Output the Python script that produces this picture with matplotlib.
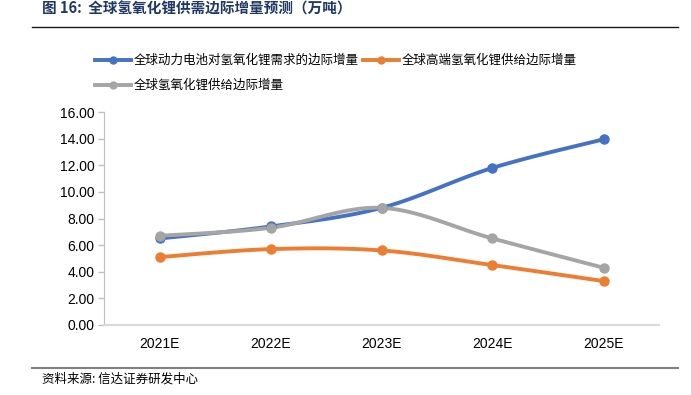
import numpy as np
import matplotlib.pyplot as plt
from matplotlib.lines import Line2D

plt.rcParams['font.family'] = ['Noto Sans CJK SC', 'DejaVu Sans']

# 数据（万吨）
years = ['2021E', '2022E', '2023E', '2024E', '2025E']
demand = [6.5, 7.4, 8.8, 11.8, 13.95]      # 全球动力电池对氢氧化锂需求的边际增量
high_end = [5.1, 5.7, 5.6, 4.5, 3.3]        # 全球高端氢氧化锂供给边际增量
supply = [6.7, 7.3, 8.8, 6.5, 4.3]          # 全球氢氧化锂供给边际增量

names = ['全球动力电池对氢氧化锂需求的边际增量', '全球高端氢氧化锂供给边际增量', '全球氢氧化锂供给边际增量']
colors = ['#4472C4', '#ED7D31', '#A5A5A5']


def smooth(y, n=30):
    # Catmull-Rom 平滑曲线（类似 Excel 平滑线）
    x = np.arange(len(y), dtype=float)
    pts = np.column_stack([x, np.asarray(y, dtype=float)])
    p = np.vstack([pts[0], pts, pts[-1]])
    out = []
    for i in range(1, len(p) - 2):
        p0, p1, p2, p3 = p[i - 1], p[i], p[i + 1], p[i + 2]
        t = np.linspace(0, 1, n)[:, None]
        seg = 0.5 * ((2 * p1) + (-p0 + p2) * t + (2 * p0 - 5 * p1 + 4 * p2 - p3) * t ** 2
                     + (-p0 + 3 * p1 - 3 * p2 + p3) * t ** 3)
        out.append(seg)
    out = np.vstack(out)
    return out[:, 0], out[:, 1]


fig = plt.figure(figsize=(6.91, 3.95), dpi=100)
ax = fig.add_axes([104 / 691, 1 - 325 / 395, 555 / 691, 213 / 395])

for vals, c in zip([demand, high_end, supply], colors):
    xs, ys = smooth(vals)
    ax.plot(xs, ys, color=c, linewidth=2.8, solid_capstyle='round', zorder=3)
    ax.plot(range(len(vals)), vals, 'o', color=c, markersize=6.5, zorder=4)

ax.set_xlim(-0.5, 4.5)
ax.set_ylim(0, 16)
ax.set_yticks(np.arange(0, 16.1, 2))
ax.set_yticklabels([f'{v:.2f}' for v in np.arange(0, 16.1, 2)], fontsize=10, family='Liberation Sans')
ax.set_xticks(range(len(years)))
ax.set_xticklabels(years, fontsize=10, family='Liberation Sans')
ax.tick_params(axis='x', length=0, pad=9)
ax.tick_params(axis='y', length=4, color='#BFBFBF', width=1, pad=3)
for s in ['top', 'right']:
    ax.spines[s].set_visible(False)
ax.spines['left'].set_color('#BFBFBF')
ax.spines['bottom'].set_color('#D9D9D9')
ax.spines['bottom'].set_linewidth(1.5)

# 图例
handles = [Line2D([0], [0], color=c, linewidth=2.8, marker='o', markersize=5) for c in colors]
fig.legend(handles[:2], names[:2], loc='upper left', bbox_to_anchor=(90 / 691, 1 - 49 / 395),
           ncol=2, frameon=False, fontsize=9, handlelength=2.9, handletextpad=0.2,
           columnspacing=0.3, borderaxespad=0)
fig.legend(handles[2:], names[2:], loc='upper left', bbox_to_anchor=(90 / 691, 1 - 74 / 395),
           frameon=False, fontsize=9, handlelength=2.9, handletextpad=0.2, borderaxespad=0)

# 标题与来源
fig.text(42 / 691, 1 - 9 / 395, '图 16:  全球氢氧化锂供需边际增量预测（万吨）', fontsize=10.5,
         fontweight='bold', color='#1F3864', va='center', ha='left')
fig.add_artist(Line2D([32 / 691, 678 / 691], [1 - 27 / 395, 1 - 27 / 395], color='#1A1A1A', linewidth=1))
fig.add_artist(Line2D([32 / 691, 678 / 691], [1 - 367.5 / 395, 1 - 367.5 / 395], color='#808080', linewidth=1.5))
fig.text(42 / 691, 1 - 379 / 395, '资料来源: 信达证券研发中心', fontsize=9, style='italic',
         color='#000000', va='center', ha='left')

fig.savefig('out.png', dpi=100)
